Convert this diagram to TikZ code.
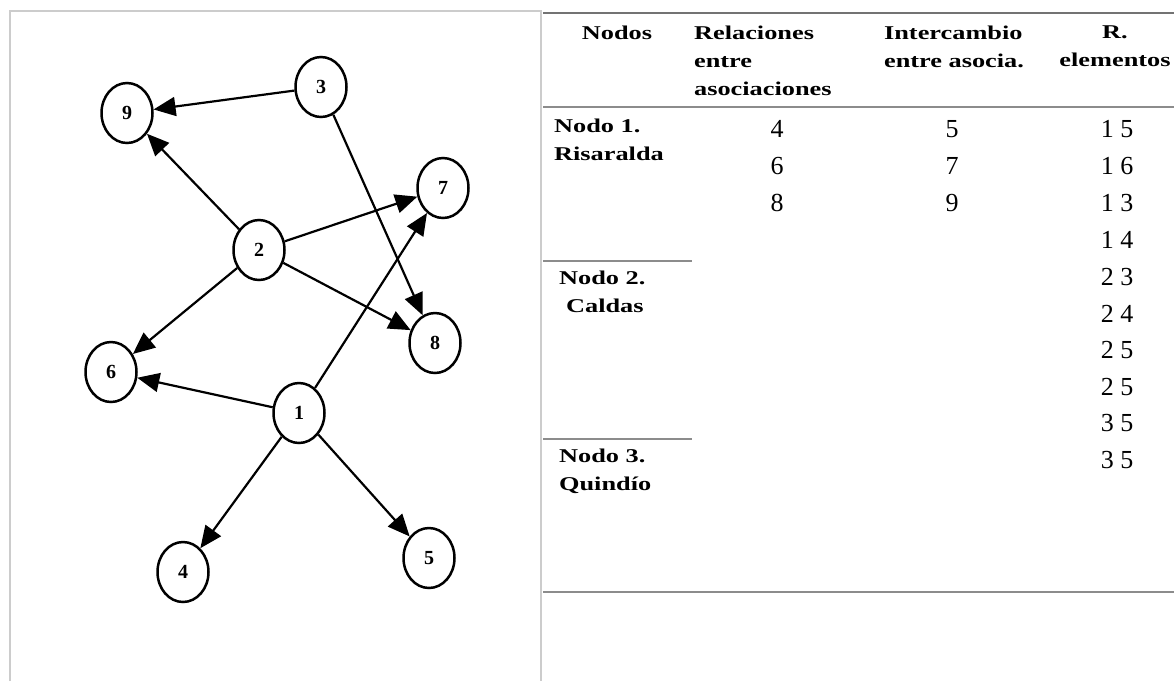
\documentclass[tikz,border=0pt]{standalone}
\usepackage{fontspec}
\setmainfont{Liberation Serif}
\newfontfamily\headfont[FakeStretch=1.35]{Liberation Serif}
\usetikzlibrary{arrows.meta,shapes.geometric}

\begin{document}
\begin{tikzpicture}[->,>={Triangle[length=22pt,width=19pt]},line width=2.2pt,
            x=1pt,y=-1pt]
            \tikzstyle{vertex}=[draw,ellipse,line width=2.5pt,minimum width=51pt,
                minimum height=60pt,inner sep=0pt,font=\fontsize{20}{20}\selectfont\bfseries]
            \tikzstyle{head}=[inner sep=0pt,
                font=\headfont\bfseries\fontsize{19.5}{28}\selectfont]
            \tikzstyle{cell}=[inner sep=0pt,font=\fontsize{26}{26}\selectfont]
            \tikzstyle{rule}=[-,draw=black!45,line width=1.6pt]
            \useasboundingbox (0,0) rectangle (1174,681);

            % frame of the graph
            \draw[-,draw=black!20,line width=2.5pt] (10,681) |- (541,11) -- (541,681);

            \node[vertex] (n_9) at (127,113) {9};
            \node[vertex] (n_3) at (321,87)  {3};
            \node[vertex] (n_7) at (443,188) {7};
            \node[vertex] (n_2) at (259,250) {2};
            \node[vertex] (n_8) at (435,343) {8};
            \node[vertex] (n_6) at (111,372) {6};
            \node[vertex] (n_1) at (299,413) {1};
            \node[vertex] (n_4) at (183,572) {4};
            \node[vertex] (n_5) at (429,558) {5};

            \path[->]
                % from 3
                (n_3) edge (n_9)
                (n_3) edge (n_8)

                % from 2
                (n_2) edge (n_9)
                (n_2) edge (n_7)
                (n_2) edge (n_8)
                (n_2) edge (n_6)

                % from 1
                (n_1) edge (n_6)
                (n_1) edge (n_7)
                (n_1) edge (n_4)
                (n_1) edge (n_5)
                ;

            % table
            \draw[rule,draw=black!55,line width=2pt] (543,12.5) -- (1174,12.5);
            \draw[rule] (543,107) -- (1174,107);
            \draw[rule] (543,261) -- (692,261);
            \draw[rule] (543,439) -- (692,439);
            \draw[rule] (543,592) -- (1174,592);

            \node[head,anchor=north] (h_nodos) at (617,25) {Nodos};
            \node[head,anchor=north west,align=left] (h_rel) at (693,25)
                {Relaciones\\entre\\asociaciones};
            \node[head,anchor=north west,align=left] (h_int) at (883,25)
                {Intercambio\\entre asocia.};
            \node[head,anchor=north,align=center] (h_r) at (1115,25) {R.\\elementos};

            \node[head,anchor=north west,align=left] (nodo_1) at (553,118) {Nodo 1.\\Risaralda};
            \node[head,anchor=north west,align=left] (nodo_2) at (558,270)
                {Nodo 2.\\\hspace*{7pt}Caldas};
            \node[head,anchor=north west,align=left] (nodo_3) at (558,448) {Nodo 3.\\Quindío};

            \node[cell] (r_1) at (777,129) {4};
            \node[cell] (r_2) at (777,166) {6};
            \node[cell] (r_3) at (777,203) {8};

            \node[cell] (i_1) at (952,129) {5};
            \node[cell] (i_2) at (952,166) {7};
            \node[cell] (i_3) at (952,203) {9};

            \node[cell] (e_1)  at (1117,129) {1 5};
            \node[cell] (e_2)  at (1117,166) {1 6};
            \node[cell] (e_3)  at (1117,203) {1 3};
            \node[cell] (e_4)  at (1117,240) {1 4};
            \node[cell] (e_5)  at (1117,277) {2 3};
            \node[cell] (e_6)  at (1117,314) {2 4};
            \node[cell] (e_7)  at (1117,350) {2 5};
            \node[cell] (e_8)  at (1117,387) {2 5};
            \node[cell] (e_9)  at (1117,423) {3 5};
            \node[cell] (e_10) at (1117,460) {3 5};
\end{tikzpicture}
\end{document}
